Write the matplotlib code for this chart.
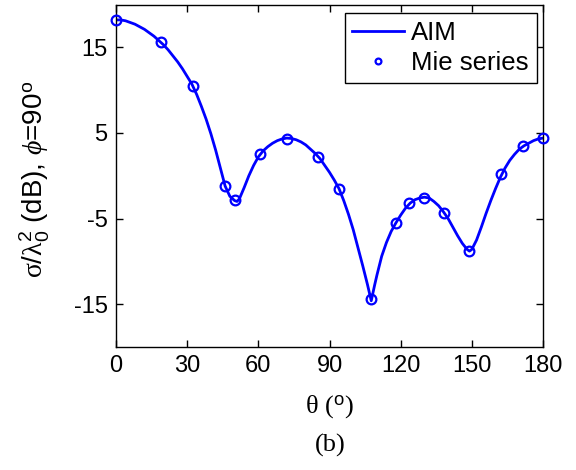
import matplotlib
matplotlib.use("Agg")
import matplotlib.pyplot as plt

plt.rcParams['font.family'] = ['Liberation Sans', 'DejaVu Sans']
plt.rcParams['axes.unicode_minus'] = False
plt.rcParams['mathtext.fontset'] = 'custom'
plt.rcParams['mathtext.rm'] = 'Liberation Sans'
plt.rcParams['mathtext.sf'] = 'Liberation Serif'
plt.rcParams['mathtext.it'] = 'Liberation Serif:italic'

# AIM curve
aim_theta = [0, 2, 4, 6, 8, 10, 12, 14, 16, 18, 20, 22, 24, 26, 28, 30, 32, 34, 36,
             38, 40, 42, 44, 46, 48, 50, 51, 52, 54, 56, 58, 60, 62, 64, 66, 68, 70,
             72, 74, 76, 78, 80, 82, 84, 86, 88, 90, 92, 94, 96, 98, 100, 102, 104,
             106, 107.6, 109, 110, 112, 114, 116, 118, 120, 122, 124, 126, 128, 130,
             132, 134, 136, 138, 140, 142, 144, 146, 148, 149, 150, 152, 154, 156,
             158, 160, 162, 164, 166, 168, 170, 172, 174, 176, 178, 180]
aim_db = [18.2, 18.2, 18.1, 17.9, 17.7, 17.4, 17.1, 16.7, 16.3, 15.8, 15.3, 14.7,
          14.0, 13.3, 12.5, 11.6, 10.7, 9.5, 8.1, 6.6, 4.9, 3.0, 0.9, -1.2, -2.4,
          -2.9, -3.0, -2.7, -1.4, 0.0, 1.2, 2.2, 2.9, 3.4, 3.8, 4.1, 4.3, 4.4, 4.35,
          4.2, 3.95, 3.6, 3.1, 2.6, 2.0, 1.2, 0.4, -0.5, -1.5, -2.9, -4.5, -6.3,
          -8.4, -10.5, -12.7, -14.6, -12.8, -11.6, -9.4, -7.8, -6.5, -5.5, -4.6,
          -3.8, -3.2, -2.8, -2.6, -2.5, -2.6, -3.0, -3.5, -4.2, -5.0, -6.0, -7.0,
          -7.9, -8.6, -8.8, -8.6, -7.5, -6.0, -4.4, -2.9, -1.5, -0.2, 0.9, 1.8,
          2.5, 3.1, 3.5, 3.8, 4.1, 4.3, 4.4]

# Mie series samples
mie_theta = [0, 19, 32.4, 45.8, 50, 60.5, 72, 85, 94, 107.6, 118, 123.6, 130,
             138.4, 149, 162.3, 171.6, 180]
mie_db = [18.2, 15.6, 10.5, -1.2, -2.8, 2.5, 4.3, 2.2, -1.5, -14.4, -5.5, -3.2,
          -2.6, -4.3, -8.8, 0.2, 3.5, 4.4]

xticks = [0, 30, 60, 90, 120, 150, 180]
yticks = [-15, -5, 5, 15]

fig = plt.figure(figsize=(5.76, 4.70), dpi=100)
ax = fig.add_axes([0.2014, 0.2617, 0.7413, 0.7287])

ax.plot(aim_theta, aim_db, color='#0000ff', lw=2.0, label='AIM')
ax.plot(mie_theta, mie_db, ls='none', marker='o', ms=7, mfc='none',
        mec='#0000ff', mew=1.6, clip_on=False, zorder=3, label='Mie series')

ax.set_xlim(0, 180)
ax.set_ylim(-20, 20)
ax.set_xticks(xticks)
ax.set_yticks(yticks)
ax.tick_params(direction='in', top=True, right=True, length=5, width=1,
               labelsize=17, pad=6)
for s in ax.spines.values():
    s.set_linewidth(1.0)

ax.set_xlabel(r'θ ($^{\mathrm{o}}$)', fontsize=19, family='Liberation Serif',
              labelpad=12)
ax.set_ylabel(r'$\mathsf{σ}/\mathsf{λ}_0^2$ (dB), $\mathit{ϕ}$=90$^{\mathrm{o}}$',
              fontsize=20)
ax.yaxis.set_label_coords(-0.15, 0.49)

leg = ax.legend(loc='upper right', bbox_to_anchor=(0.985, 0.975), fontsize=18.5,
                frameon=True, fancybox=False, edgecolor='black', framealpha=1,
                borderpad=0.3, handlelength=2.0, handletextpad=0.3,
                labelspacing=0.25, borderaxespad=0.0, markerscale=0.6)
leg.get_frame().set_linewidth(1.0)

fig.text(0.574, 0.053, '(b)', ha='center', va='center', fontsize=19,
         family='Liberation Serif')

fig.savefig('out.png', dpi=100)
